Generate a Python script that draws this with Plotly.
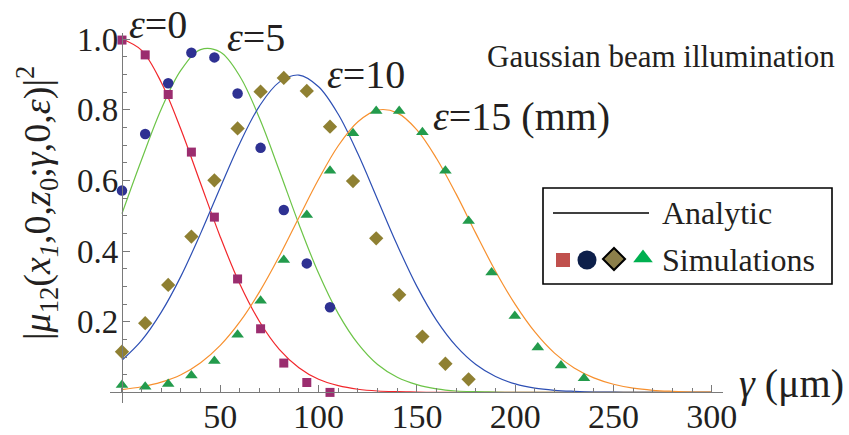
import plotly.graph_objects as go

# ---------------- data ----------------
# analytic curves, gamma in µm
curve_x = list(range(0, 301, 10))
analytic_eps0 = [1.000, 0.968, 0.877, 0.744, 0.591, 0.440, 0.306, 0.200, 0.122, 0.070,
                 0.037, 0.019, 0.009, 0.004, 0.002, 0.001, 0, 0, 0, 0,
                 0, 0, 0, 0, 0, 0, 0, 0, 0, 0, 0]
analytic_eps5 = [0.506, 0.659, 0.802, 0.912, 0.970, 0.963, 0.894, 0.775, 0.628, 0.476,
                 0.337, 0.223, 0.138, 0.079, 0.043, 0.022, 0.010, 0.004, 0.002, 0.001,
                 0, 0, 0, 0, 0, 0, 0, 0, 0, 0, 0]
analytic_eps10 = [0.091, 0.147, 0.227, 0.329, 0.450, 0.580, 0.706, 0.811, 0.878, 0.898,
                  0.865, 0.787, 0.675, 0.546, 0.417, 0.300, 0.204, 0.131, 0.079, 0.045,
                  0.024, 0.012, 0.006, 0.003, 0.001, 0.0005, 0, 0, 0, 0, 0]
analytic_eps15 = [0.008, 0.016, 0.029, 0.050, 0.084, 0.133, 0.200, 0.285, 0.385, 0.495,
                  0.603, 0.698, 0.766, 0.799, 0.791, 0.743, 0.662, 0.561, 0.450, 0.343,
                  0.249, 0.171, 0.111, 0.069, 0.041, 0.023, 0.012, 0.006, 0.003, 0.001, 0.0006]

# simulation points
sim_x = [0, 11.8, 23.5, 35.3, 47.0, 58.8, 70.5, 82.3, 94.0, 105.8, 117.5,
         129.3, 141.0, 152.8, 164.5, 176.3, 188.0, 199.8, 211.5, 223.3, 235.0]
sim_eps0 = [0.997, 0.955, 0.843, 0.680, 0.496, 0.321, 0.180, 0.083, 0.028, 0.000]
sim_eps5 = [0.571, 0.731, 0.875, 0.961, 0.948, 0.846, 0.692, 0.516, 0.365, 0.241]
sim_eps10 = [0.115, 0.196, 0.304, 0.441, 0.600, 0.747, 0.851, 0.890, 0.853, 0.752,
             0.598, 0.436, 0.276, 0.158, 0.081, 0.037]
sim_eps15 = [0.021, 0.016, 0.024, 0.048, 0.089, 0.163, 0.259, 0.375, 0.502, 0.627,
             0.733, 0.796, 0.796, 0.736, 0.627, 0.485, 0.339, 0.216, 0.127, 0.076, 0.040]

x_tick_vals = [50, 100, 150, 200, 250, 300]
x_tick_text = ["50", "100", "150", "200", "250", "300"]
y_tick_vals = [0.2, 0.4, 0.6, 0.8, 1.0]
y_tick_text = ["0.2", "0.4", "0.6", "0.8", "1.0"]

curve_labels = ["<i>ε</i>=0", "<i>ε</i>=5", "<i>ε</i>=10", "<i>ε</i>=15 (mm)"]

# ---------------- styling ----------------
W, H = 849, 435
PL, PR, PT, PB = 110, 723, 33, 403
XR = [-6.1, 305.7]
YR = [-0.03, 1.017]
FONT = "Liberation Serif, Times New Roman, serif"
TXT = "#231f20"
AX = "#7a7a7a"

line_colors = ["#f2262b", "#6cc447", "#2d4fb4", "#f7902e"]
mk_colors = ["#9b2d6f", "#2e3192", "#8f8032", "#239b4c"]
mk_symbols = ["square", "circle", "diamond", "triangle-up"]
mk_sizes = [9, 10.5, 11, 11]


def px(x):
    return (x - PL) / (PR - PL)


def py(y):
    return (PB - y) / (PB - PT)


fig = go.Figure()

for ys, c in zip([analytic_eps0, analytic_eps5, analytic_eps10, analytic_eps15], line_colors):
    fig.add_trace(go.Scatter(x=curve_x, y=ys, mode="lines",
                             line=dict(color=c, width=1.2, shape="spline", smoothing=1.0),
                             hoverinfo="skip", showlegend=False, cliponaxis=True))

for ys, c, s, sz in zip([sim_eps0, sim_eps5, sim_eps10, sim_eps15], mk_colors, mk_symbols, mk_sizes):
    fig.add_trace(go.Scatter(x=sim_x[:len(ys)], y=ys, mode="markers",
                             marker=dict(color=c, symbol=s, size=sz, opacity=1, line=dict(width=0)),
                             hoverinfo="skip", showlegend=False, cliponaxis=False))

# legend key glyphs (pixel-mapped overlay axes)
legend_key_x = [563, 587, 614, 643]
legend_key_y = [260, 260, 259, 258]
legend_key_colors = ["#c0504d", "#0d1f4a", "#8c7f4a", "#00b050"]
legend_key_sizes = [14, 19, 17, 17]
legend_key_lw = [0, 0, 2, 0]
fig.add_trace(go.Scatter(x=legend_key_x, y=legend_key_y, xaxis="x2", yaxis="y2", mode="markers",
                         marker=dict(color=legend_key_colors, symbol=mk_symbols, size=legend_key_sizes,
                                     opacity=1, line=dict(color="black", width=legend_key_lw)),
                         hoverinfo="skip", showlegend=False, cliponaxis=False))

fig.update_layout(
    width=W, height=H,
    margin=dict(l=PL, r=W - PR, t=PT, b=H - PB, autoexpand=False),
    paper_bgcolor="white", plot_bgcolor="white",
    font=dict(family=FONT, color=TXT),
    xaxis=dict(range=XR, anchor="free", position=(0 - YR[0]) / (YR[1] - YR[0]), automargin=False,
               showgrid=False, zeroline=False, showline=True, linecolor=AX, linewidth=1.2,
               tickmode="array", tickvals=x_tick_vals, ticktext=x_tick_text,
               ticks="inside", ticklen=7, tickwidth=1.1, tickcolor=AX, ticklabelstandoff=-6,
               tickfont=dict(size=34, family=FONT, color=TXT),
               minor=dict(tickmode="linear", tick0=0, dtick=10, ticks="inside", ticklen=4,
                          tickwidth=1, tickcolor=AX)),
    yaxis=dict(range=YR, anchor="free", position=(0 - XR[0]) / (XR[1] - XR[0]), automargin=False,
               showgrid=False, zeroline=False, showline=True, linecolor=AX, linewidth=1.2,
               tickmode="array", tickvals=y_tick_vals, ticktext=y_tick_text,
               ticks="inside", ticklen=7, tickwidth=1.1, tickcolor=AX, ticklabelstandoff=-3,
               tickfont=dict(size=33, family=FONT, color=TXT),
               minor=dict(tickmode="linear", tick0=0, dtick=0.05, ticks="inside", ticklen=4,
                          tickwidth=1, tickcolor=AX)),
    xaxis2=dict(overlaying="x", anchor="y2", range=[PL, PR], visible=False, automargin=False),
    yaxis2=dict(overlaying="y", anchor="x2", range=[PB, PT], visible=False, automargin=False),
)

ann = []
label_pos = [(158, 24), (256, 38), (366, 74), (521, 116)]
for t, (lx, ly) in zip(curve_labels, label_pos):
    ann.append(dict(text=t, x=px(lx), y=py(ly), xref="paper", yref="paper",
                    showarrow=False, xanchor="center", yanchor="middle",
                    font=dict(size=40, family=FONT, color=TXT)))
ann.append(dict(text="Gaussian beam illumination", x=px(661), y=py(56), xref="paper", yref="paper",
                showarrow=False, xanchor="center", yanchor="middle",
                font=dict(size=31, family=FONT, color=TXT)))
ann.append(dict(text="<i>γ</i> (μm)", x=px(791), y=py(383), xref="paper", yref="paper",
                showarrow=False, xanchor="center", yanchor="middle",
                font=dict(size=40, family=FONT, color=TXT)))
ann.append(dict(text="|<i>μ</i><sub>12</sub>(<i>x</i><sub><i>1</i></sub>,0,<i>z</i><sub>0</sub>;"
                     "<i>γ</i>,0,<i>ε</i>)|<sup>2</sup>",
                x=px(37), y=py(203), xref="paper", yref="paper", textangle=-90,
                showarrow=False, xanchor="center", yanchor="middle",
                font=dict(size=38, family=FONT, color=TXT)))
ann.append(dict(text="Analytic", x=px(660), y=py(213), xref="paper", yref="paper",
                showarrow=False, xanchor="left", yanchor="middle",
                font=dict(size=32, family=FONT, color=TXT)))
ann.append(dict(text="Simulations", x=px(660), y=py(260), xref="paper", yref="paper",
                showarrow=False, xanchor="left", yanchor="middle",
                font=dict(size=32, family=FONT, color=TXT)))
fig.update_layout(annotations=ann)

fig.update_layout(shapes=[
    dict(type="rect", xref="paper", yref="paper", x0=px(543), x1=px(832), y0=py(284), y1=py(188),
         line=dict(color="black", width=1.6), fillcolor="rgba(0,0,0,0)"),
    dict(type="line", xref="paper", yref="paper", x0=px(553), x1=px(649), y0=py(213), y1=py(213),
         line=dict(color="black", width=1.5)),
])

fig.write_html("out.html", config={"displayModeBar": False},
               post_script="document.body.style.margin='0';document.body.style.overflow='hidden';")
